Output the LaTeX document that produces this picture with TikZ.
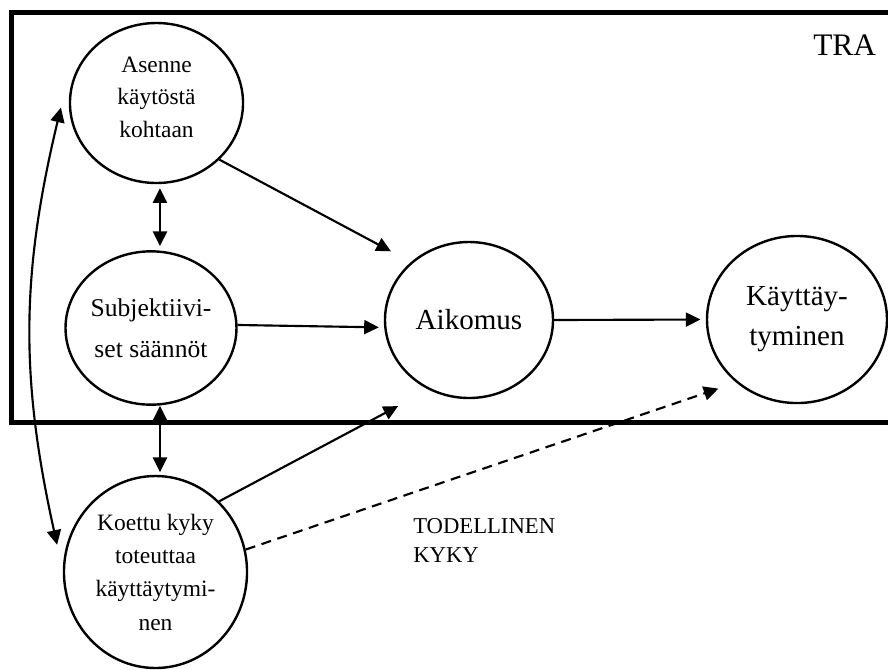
\documentclass[tikz,border=0pt]{standalone}
\usepackage{fontspec}
\setmainfont{Liberation Serif}
\usetikzlibrary{arrows.meta,shapes.geometric}

\newcommand{\fsz}[2]{\fontsize{#1}{#2}\selectfont}

\begin{document}
\begin{tikzpicture}[
  x=0.75pt, y=-0.75pt,
  oval/.style={ellipse, draw=black, line width=1.8pt, inner sep=0pt, align=center},
  arr/.style={-{Triangle[length=11pt,width=10.5pt]}, line width=1.6pt},
  dbl/.style={{Triangle[length=11pt,width=10.5pt]}-{Triangle[length=11pt,width=10.5pt]}, line width=1.6pt},
  frame/.style={line width=3.75pt, line join=miter},
]
  \useasboundingbox (0,0) rectangle (888,669);

  % TRA frame, open to the right
  \draw[frame] (888,12) -| (11,422) -- (888,422);
  \node[anchor=base west, inner sep=0pt, font=\fsz{23.5pt}{28pt}] (tra) at (813,55) {TRA};

  \node[oval, minimum width=129.8pt, minimum height=120pt, text depth=9pt,
        font=\fsz{17.6pt}{24.4pt}] (asenne) at (156.5,103) {Asenne\\käytöstä\\kohtaan};
  \node[oval, minimum width=126pt, minimum height=115pt,
        font=\fsz{19.2pt}{30.75pt}] (subj) at (151,328) {Subjektiivi-\\set säännöt};
  \node[oval, minimum width=137.3pt, minimum height=144pt,
        font=\fsz{17.6pt}{25pt}] (koettu) at (155.5,572) {Koettu kyky\\toteuttaa\\käyttäytymi-\\nen};
  \node[oval, minimum width=126pt, minimum height=117pt,
        font=\fsz{21.8pt}{30pt}] (aikomus) at (469,320) {Aikomus};
  \node[oval, minimum width=135pt, minimum height=125.3pt,
        font=\fsz{21.8pt}{30pt}] (kayt) at (797,319.5) {Käyttäy-\\tyminen};

  \node[anchor=west, inner sep=0pt, align=left, font=\fsz{17pt}{21.75pt}] (kyky) at (413,540) {TODELLINEN\\KYKY};

  % arrows
  \draw[arr, shorten >=17pt] (asenne.-42) -- (aikomus.135);
  \draw[arr, shorten >=4pt] (subj.2) -- (aikomus.185);
  \draw[arr, shorten >=4pt] (aikomus.east) -- (kayt.west);
  \draw[arr, shorten >=26pt] (koettu.48) -- (aikomus.240);
  \draw[arr, dash pattern=on 7.5pt off 5pt, shorten >=14pt] (koettu.14) -- (kayt.226);

  \draw[dbl, shorten <=3pt, shorten >=3pt] ([xshift=2.6pt]asenne.south) -- ([xshift=2.6pt]asenne.south |- subj.north);
  \draw[dbl, shorten >=2pt] ([xshift=6.75pt]subj.south) -- ([xshift=6.75pt]subj.south |- koettu.north);
  \draw[dbl] ([xshift=-6pt]asenne.183) to[bend right=13] ([xshift=-7pt]koettu.163);
\end{tikzpicture}
\end{document}
